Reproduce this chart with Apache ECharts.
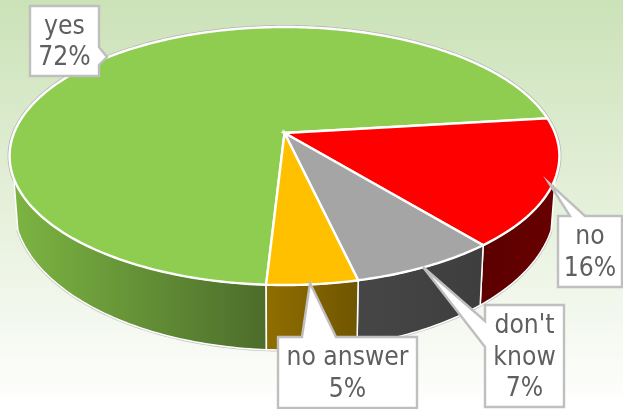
<!DOCTYPE html>
<html>
<head>
<meta charset="utf-8">
<style>html,body{margin:0;padding:0;background:#fff}#c{width:623px;height:409px}</style>
<script src="https://cdn.jsdelivr.net/npm/echarts@6/dist/echarts.min.js"></script>
</head>
<body>
<div id="c"></div>
<script>
// Data
const categories = ['yes', 'no', "don't know", 'no answer'];
const values = [72.2, 16.0, 7.3, 4.5];
const labelLines = [['yes'], ['no'], ["don't", 'know'], ['no answer']];

// Styling
const topColors = ['#8ecd4f', '#ff0000', '#a5a5a5', '#ffc000'];
const wallColors = [['#7cb542', '#4c6c2b'], ['#5c0000', '#680000'], ['#464646', '#3e3e3e'], ['#906e00', '#6f5500']];

// Perspective model of the tilted disc
const hub = { x: 284.5, y: 133 }, hubB = { x: 284.5, y: 179 };
const A = 270.5, a = 101.2, c = -0.1783, kx = 0.985, ky = 1.125;
const startDeg = 93.2;
const wallRange = [20, 160];

const total = values.reduce((s, v) => s + v, 0);
function proj(deg) {
  const t = deg * Math.PI / 180, u = Math.cos(t), v = Math.sin(t), w = 1 + c * v;
  return [hub.x + A * u / w, (a * v + hub.y) / w];
}
function projB(deg) {
  const p = proj(deg);
  return [hubB.x + (p[0] - hub.x) * kx, hubB.y + (p[1] - hub.y) * ky];
}
function arc(fn, d1, d2) {
  const pts = [], n = Math.max(2, Math.ceil(Math.abs(d2 - d1)));
  for (let i = 0; i <= n; i++) pts.push(fn(d1 + (d2 - d1) * i / n));
  return pts;
}
function sliceSpan(i) {
  let s = startDeg;
  for (let k = 0; k < i; k++) s += values[k] / total * 360;
  return [s, s + values[i] / total * 360];
}
// Walls: visible part of each slice's side, intersected with the front range
function wallSpans(i) {
  const sp = sliceSpan(i), out = [];
  [-360, 0, 360].forEach(off => {
    const l = Math.max(sp[0] + off, wallRange[0]), h = Math.min(sp[1] + off, wallRange[1]);
    if (h > l) out.push([l, h]);
  });
  return out;
}

// Callouts: [box x, y, w, h], tip, pointer base
const callouts = [
  { box: [30, 6, 69, 70], poly: [[99, 47], [107, 57], [99, 65]] , side: 'right' },
  { box: [558, 216, 64, 71], poly: [[570, 216], [549, 183], [585, 216]], side: 'top' },
  { box: [485, 305, 79, 102], poly: [[485, 321], [423, 267], [485, 347]], side: 'left' },
  { box: [278, 337, 139, 71], poly: [[302, 337], [310, 283], [336, 337]], side: 'top' }
];
function calloutPath(cb) {
  const [x, y, w, h] = cb.box, p = cb.poly;
  if (cb.side === 'right') return [[x, y], [x + w, y], p[0], p[1], p[2], [x + w, y + h], [x, y + h]];
  if (cb.side === 'top') return [[x, y], p[0], p[1], p[2], [x + w, y], [x + w, y + h], [x, y + h]];
  return [[x, y], [x + w, y], [x + w, y + h], [x, y + h], p[2], p[1], p[0]];
}

const font = '"DejaVu Sans", sans-serif';
const textScaleY = 1.15;
const seriesData = categories.map((name, i) => ({ name, value: values[i] }));

const option = {
  animation: false,
  backgroundColor: new echarts.graphic.LinearGradient(0, 0, 0, 1, [
    { offset: 0, color: '#cbe2b8' }, { offset: 0.5, color: '#e5f0da' }, { offset: 1, color: '#ffffff' }
  ]),
  xAxis: { show: false }, yAxis: { show: false },
  series: [
    { // rim outline and walls
      type: 'custom', coordinateSystem: 'none', z: 1, silent: true, data: seriesData,
      renderItem(params) {
        const i = params.dataIndex, children = [];
        if (i === 0) {
          children.push({ type: 'polygon', shape: { points: arc(proj, 0, 360) }, style: { fill: 'none', stroke: '#b8b8b8', lineWidth: 4 } });
          children.push({ type: 'polyline', shape: { points: arc(projB, wallRange[0], wallRange[1]) }, style: { fill: 'none', stroke: '#c4c4c4', lineWidth: 3 } });
        }
        wallSpans(i).forEach(sp => {
          const pts = arc(proj, sp[0], sp[1]).concat(arc(projB, sp[1], sp[0]));
          children.push({
            type: 'polygon', shape: { points: pts },
            style: {
              fill: new echarts.graphic.LinearGradient(0, 0, 1, 0, [{ offset: 0, color: wallColors[i][0] }, { offset: 1, color: wallColors[i][1] }]),
              stroke: '#ffffff', lineWidth: 1.5
            }
          });
        });
        return { type: 'group', children };
      }
    },
    { // top faces
      type: 'custom', coordinateSystem: 'none', z: 2, silent: true, data: seriesData,
      renderItem(params) {
        const i = params.dataIndex, sp = sliceSpan(i);
        return {
          type: 'polygon',
          shape: { points: [[hub.x, hub.y]].concat(arc(proj, sp[0], sp[1])) },
          style: { fill: topColors[i], stroke: '#ffffff', lineWidth: 2.4, lineJoin: 'miter' }
        };
      }
    },
    { // callouts
      type: 'custom', coordinateSystem: 'none', z: 3, silent: true, data: seriesData,
      renderItem(params) {
        const i = params.dataIndex, cb = callouts[i], [x, y, w, h] = cb.box;
        const lines = labelLines[i].concat([Math.round(values[i]) + '%']);
        return {
          type: 'group',
          children: [
            { type: 'polygon', shape: { points: calloutPath(cb) }, style: { fill: '#ffffff', stroke: '#bfbfbf', lineWidth: 2.4 } },
            { type: 'text', x: x + w / 2, y: y + h / 2 + 1.5, scaleY: textScaleY,
              style: { x: 0, y: 0, text: lines.join('\n'), fill: '#5f5f5f', font: '23.6px ' + font, lineHeight: 31.5 / textScaleY, align: 'center', verticalAlign: 'middle' } }
          ]
        };
      }
    }
  ]
};
const chart = echarts.init(document.getElementById('c'), null, { renderer: 'canvas', width: 623, height: 409 });
chart.setOption(option);
</script>
</body>
</html>
